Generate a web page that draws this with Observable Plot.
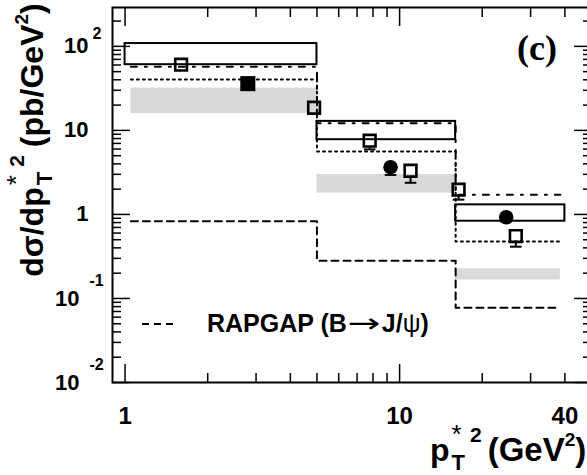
<!DOCTYPE html>
<html><head><meta charset="utf-8">
<script src="https://cdn.jsdelivr.net/npm/d3@7"></script>
<script src="https://cdn.jsdelivr.net/npm/@observablehq/plot@0.6"></script>
<style>
html,body{margin:0;padding:0;background:#fff;overflow:hidden;}
#chart svg{overflow:hidden;display:block;}
</style></head><body><div id="chart"></div>
<script>
// ---- data ----
const boxEdges = [1, 5, 16, 40];
const boxLow = [60.5, 7.75, 0.83];
const boxHigh = [108, 12.8, 1.30];
const modelEdges = [1.05, 5, 16, 38.5];
const bandLow = [15.8, 1.79, 0.166];
const bandHigh = [31.9, 2.99, 0.225];
const dashDotModel = [57, 12.2, 1.71];
const dottedModel = [40.2, 5.62, 0.475];
const rapgapModel = [0.83, 0.282, 0.0776];

const openX = [1.6, 4.88, 7.78, 10.96, 16.4, 26.5];
const openY = [60.5, 18.6, 7.54, 3.31, 1.97, 0.553];
const openErr = [4, 1.5, 1.6, 0.93, 0.47, 0.14];
const fullSqX = [2.8];
const fullSqY = [36.0];
const circX = [9.27, 24.45];
const circY = [3.65, 0.926];
const circErr = [0.7, 0.1];

const xMajor = [1, 10];
const xMinor = [2, 3, 4, 5, 6, 7, 8, 9, 20, 30, 40];
const xTickVals = [1, 10, 40];
const xTickText = ["1", "10", "40"];
const yMajor = [0.01, 0.1, 1, 10, 100];
const yMinor = [0.02,0.03,0.04,0.05,0.06,0.07,0.08,0.09,0.2,0.3,0.4,0.5,0.6,0.7,0.8,0.9,2,3,4,5,6,7,8,9,20,30,40,50,60,70,80,90,200];
const yTickBase = ["10", "10", "1", "10", "10"];
const yTickExp = ["-2", "-1", "", "", "2"];

// ---- tables built from the arrays ----
const bins = (edges, lo, hi) => lo.map((v, i) => ({x1: edges[i], x2: edges[i + 1], y1: v, y2: hi[i]}));
const steps = (edges, vals) => edges.map((e, i) => ({x: e, y: vals[Math.min(i, vals.length - 1)]}));
const boxRows = bins(boxEdges, boxLow, boxHigh);
const bandRows = bins(modelEdges, bandLow, bandHigh);
const openRows = openX.map((x, i) => ({x, y: openY[i], lo: openY[i] - openErr[i]}));
const circRows = circX.map((x, i) => ({x, y: circY[i], lo: circY[i] - circErr[i]}));
const fullRows = fullSqX.map((x, i) => ({x, y: fullSqY[i]}));
const yLab = yMajor.map((v, i) => ({v, base: yTickBase[i], exp: yTickExp[i]}));
const xLab = xTickVals.map((v, i) => ({v, t: xTickText[i]}));

const capSymbol = {draw(ctx, size) { const w = Math.sqrt(size) / 2; ctx.moveTo(-w, 0); ctx.lineTo(w, 0); }};
const FONT = "Liberation Sans, Arial, Helvetica, sans-serif";

const plot = Plot.plot({
  width: 587, height: 475,
  marginLeft: 112, marginRight: -4, marginTop: 7, marginBottom: 93,
  style: {fontFamily: FONT, background: "white", color: "black"},
  x: {type: "log", domain: [0.9, 50]},
  y: {type: "log", domain: [0.01, 290]},
  marks: [
    Plot.rect(bandRows, {x1: "x1", x2: "x2", y1: "y1", y2: "y2", fill: "#d9d9d9"}),
    Plot.line(steps(modelEdges, rapgapModel), {x: "x", y: "y", curve: "step-after", stroke: "black", strokeWidth: 2, strokeDasharray: "7,5"}),
    Plot.line(steps(modelEdges, dottedModel), {x: "x", y: "y", curve: "step-after", stroke: "black", strokeWidth: 2, strokeDasharray: "2,4"}),
    Plot.line(steps(modelEdges, dashDotModel), {x: "x", y: "y", curve: "step-after", stroke: "black", strokeWidth: 2, strokeDasharray: "6,8,2,8"}),
    Plot.rect(boxRows, {x1: "x1", x2: "x2", y1: "y1", y2: "y2", fill: "none", stroke: "black", strokeWidth: 2}),
    // error bars (lower part, outside the marker)
    Plot.ruleX(openRows, {filter: d => d.y / d.lo > 1.22, x: "x", y1: "y", y2: "lo", insetTop: 7, stroke: "black", strokeWidth: 2}),
    Plot.dot(openRows, {filter: d => d.y / d.lo > 1.22, x: "x", y: "lo", symbol: capSymbol, r: 6.5, stroke: "black", strokeWidth: 2, fill: "none"}),
    Plot.ruleX(circRows, {x: "x", y1: "y", y2: "lo", stroke: "black", strokeWidth: 2}),
    Plot.dot(circRows, {x: "x", y: "lo", symbol: capSymbol, r: 6.5, stroke: "black", strokeWidth: 2, fill: "none"}),
    // markers
    Plot.dot(openRows, {x: "x", y: "y", symbol: "square", r: 6.6, stroke: "black", strokeWidth: 2.6, fill: "none"}),
    Plot.dot(fullRows, {x: "x", y: "y", symbol: "square", r: 8.5, fill: "black"}),
    Plot.dot(circRows, {x: "x", y: "y", r: 7.3, fill: "black"}),
    // frame and inward ticks on all four sides
    Plot.frame({stroke: "black", strokeWidth: 2}),
    Plot.axisX(xMajor, {anchor: "bottom", tickSize: -18, fill: "none", stroke: "black", strokeWidth: 1.5}),
    Plot.axisX(xMinor, {anchor: "bottom", tickSize: -9, fill: "none", stroke: "black", strokeWidth: 1.5}),
    Plot.axisX(xMajor, {anchor: "top", tickSize: -18, fill: "none", stroke: "black", strokeWidth: 1.5}),
    Plot.axisX(xMinor, {anchor: "top", tickSize: -9, fill: "none", stroke: "black", strokeWidth: 1.5}),
    Plot.axisY(yMajor, {anchor: "left", tickSize: -18, fill: "none", stroke: "black", strokeWidth: 1.5}),
    Plot.axisY(yMinor, {anchor: "left", tickSize: -9, fill: "none", stroke: "black", strokeWidth: 1.5}),
    Plot.axisY(yMajor, {anchor: "right", tickSize: -18, fill: "none", stroke: "black", strokeWidth: 1.5}),
    Plot.axisY(yMinor, {anchor: "right", tickSize: -9, fill: "none", stroke: "black", strokeWidth: 1.5}),
    // tick labels
    Plot.text(xLab, {x: "v", text: "t", frameAnchor: "bottom", dy: 34, lineAnchor: "middle", fontSize: 24, fontWeight: "bold", fill: "black"}),
    Plot.text(yLab, {filter: d => d.v >= 1, y: "v", text: "base", frameAnchor: "left", dx: -24, textAnchor: "end", fontSize: 22, fontWeight: "bold", fill: "black"}),
    Plot.text(yLab, {filter: d => d.v < 1, y: "v", text: "base", frameAnchor: "left", dx: -33, textAnchor: "end", fontSize: 22, fontWeight: "bold", fill: "black"}),
    Plot.text(yLab, {filter: d => d.v >= 1, y: "v", text: "exp", frameAnchor: "left", dx: -20, dy: -12, textAnchor: "start", fontSize: 16, fontWeight: "bold", fill: "black"}),
    Plot.text(yLab, {filter: d => d.v < 1, y: "v", text: "exp", frameAnchor: "left", dx: -23, dy: -18, textAnchor: "start", fontSize: 16, fontWeight: "bold", fill: "black"})
  ]
});
document.getElementById("chart").appendChild(plot);

// ---- rich text (titles, legend, panel label) ----
const svg = d3.select(plot);
function rich(pieces) {
  const g = svg.append("g").attr("text-anchor", "start");
  let x = 0, prevX = 0;
  for (const p of pieces) {
    const px = p.stack ? prevX : x + (p.gap || 0);
    const t = g.append("text").attr("x", px).attr("y", p.dy || 0)
      .attr("text-anchor", "start")
      .attr("font-family", p.ff || FONT).attr("font-size", p.fs)
      .attr("font-weight", p.fw || "bold").attr("fill", "black").text(p.t);
    if (p.len) t.attr("textLength", p.len).attr("lengthAdjust", "spacingAndGlyphs");
    const w = p.len || t.node().getComputedTextLength();
    if (p.stack) x = Math.max(x, prevX + w);
    else { prevX = px; x = px + w; }
  }
  return {g, width: x};
}
// x-axis title
const xt = rich([
  {t: "p", fs: 32},
  {t: "*", fs: 26, fw: "normal", dy: -18, gap: 2},
  {t: "T", fs: 22, dy: 9, stack: true},
  {t: "2", fs: 21, dy: -19, gap: 5},
  {t: "(GeV", fs: 33, gap: 6},
  {t: "2", fs: 19, dy: -15},
  {t: ")", fs: 33}
]);
xt.g.attr("transform", "translate(430,461)");
// y-axis title
const yt = rich([
  {t: "d", fs: 32},
  {t: "σ", fs: 32},
  {t: "/dp", fs: 32},
  {t: "*", fs: 26, fw: "normal", dy: -18, gap: 2},
  {t: "T", fs: 22, dy: 9, stack: true},
  {t: "2", fs: 21, dy: -19, gap: 5},
  {t: "(pb/GeV", fs: 32, gap: 8},
  {t: "2", fs: 19, dy: -15},
  {t: ")", fs: 32}
]);
yt.g.attr("transform", `translate(43,${140 + yt.width / 2}) rotate(-90)`);
// legend
svg.append("line").attr("x1", 142).attr("x2", 174).attr("y1", 324).attr("y2", 324)
  .attr("stroke", "black").attr("stroke-width", 2).attr("stroke-dasharray", "7,5");
const lg = rich([
  {t: "RAPGAP (B", fs: 25},
  {t: "→", fs: 26, fw: "normal", ff: "DejaVu Sans", len: 33, gap: 1},
  {t: "J/", fs: 25, gap: 1},
  {t: "ψ", fs: 25, fw: "normal"},
  {t: ")", fs: 25}
]);
lg.g.attr("transform", "translate(207,332)");
// panel label
svg.append("text").attr("x", 537).attr("y", 60).attr("text-anchor", "middle")
  .attr("font-family", "Liberation Serif, Times New Roman, serif").attr("font-weight", "bold")
  .attr("font-size", 36).attr("fill", "black").text("(c)");
</script></body></html>
